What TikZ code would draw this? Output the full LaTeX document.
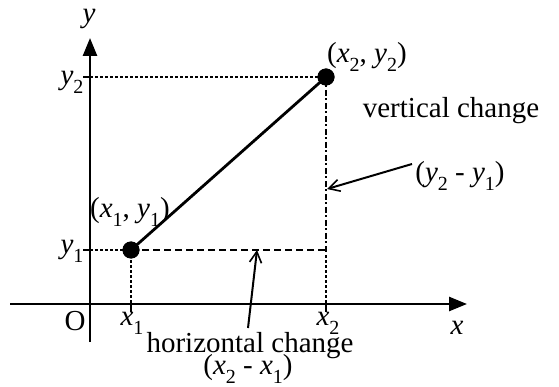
\documentclass[tikz,border=0pt]{standalone}
\usepackage{fontspec}
\setmainfont{Liberation Serif}
\usetikzlibrary{arrows.meta}
\newcommand\vv[2]{\textit{#1}\raisebox{-0.32em}{\fontsize{20}{20}\selectfont #2}}
\begin{document}
\begin{tikzpicture}[x=1pt,y=-1pt,
  lbl/.style={inner sep=0pt,font=\fontsize{29}{32}\selectfont},
  axis/.style={line width=2.6pt,-{Triangle[length=18pt,width=14pt]}},
  dotl/.style={line width=1.6pt,dash pattern=on 2.5pt off 2.5pt},
  dashl/.style={line width=2pt,dash pattern=on 7pt off 4pt},
  dashdotl/.style={line width=2pt,dash pattern=on 6pt off 2.5pt on 2pt off 2.5pt},
  pt/.style={circle,fill=black,inner sep=0pt,minimum size=17pt},
  ptr/.style={line width=2pt,-{Straight Barb[length=11pt,width=12pt,line width=1.6pt]}}]
\useasboundingbox (0,0) rectangle (559,387);
% axes
\coordinate (ybot) at (90,342);
\coordinate (ytop) at (90,38);
\coordinate (xl) at (10,304);
\coordinate (xr) at (467,304);
\draw[axis] (ybot) -- (ytop);
\draw[axis] (xl) -- (xr);
% points
\node[pt] (p1) at (131,250) {};
\node[pt] (p2) at (326,77) {};
\coordinate (c) at (326,250);
\coordinate (x1a) at (131,304);
\coordinate (x2a) at (326,304);
\coordinate (y1a) at (90,250);
\coordinate (y2a) at (90,77);
% ticks
\draw[line width=1.2pt] (x1a) -- ++(0,8);
\draw[line width=1.2pt] (x2a) -- ++(0,8);
\draw[line width=1.2pt] (y1a) -- ++(-7,0);
\draw[line width=1.2pt] (y2a) -- ++(-7,0);
% guide lines
\draw[dotl] (y2a) -- (p2.center);
\draw[dotl] (y1a) -- (p1.center);
\draw[dotl] (p1.center) -- (x1a);
\draw[dotl] (c) -- (x2a);
\draw[dashl] (p1.center) -- (c);
\draw[dashdotl] (p2.center) -- (c);
% segment
\draw[line width=2.8pt] (p1.center) -- (p2.center);
\node[pt] at (p1) {};
\node[pt] at (p2) {};
% labels
\node[lbl] (ylab) at (89,19) {\textit{y}};
\node[lbl] (xlab) at (457,328) {\textit{x}};
\node[lbl] (olab) at (75,321) {O};
\node[lbl] (y2lab) at (72,82) {\vv{y}{2}};
\node[lbl] (y1lab) at (72,251) {\vv{y}{1}};
\node[lbl] (x1lab) at (132,323) {\vv{x}{1}};
\node[lbl] (x2lab) at (328,323) {\vv{x}{2}};
\node[lbl] (p1lab) at (130,212) {(\vv{x}{1}, \vv{y}{1})};
\node[lbl] (p2lab) at (367,57) {(\vv{x}{2}, \vv{y}{2})};
\node[lbl] (vch) at (451,111) {vertical change};
\node[lbl] (vdiff) at (460,176) {(\vv{y}{2} - \vv{y}{1})};
\node[lbl] (hch) at (250,346) {horizontal change};
\node[lbl] (hdiff) at (248,369) {(\vv{x}{2} - \vv{x}{1})};
% pointers
\coordinate (vstart) at (412,164);
\coordinate (vend) at (327,189);
\coordinate (hstart) at (248,328);
\coordinate (hend) at (257,250);
\draw[ptr] (vstart) -- (vend);
\draw[ptr] (hstart) -- (hend);
\end{tikzpicture}
\end{document}
